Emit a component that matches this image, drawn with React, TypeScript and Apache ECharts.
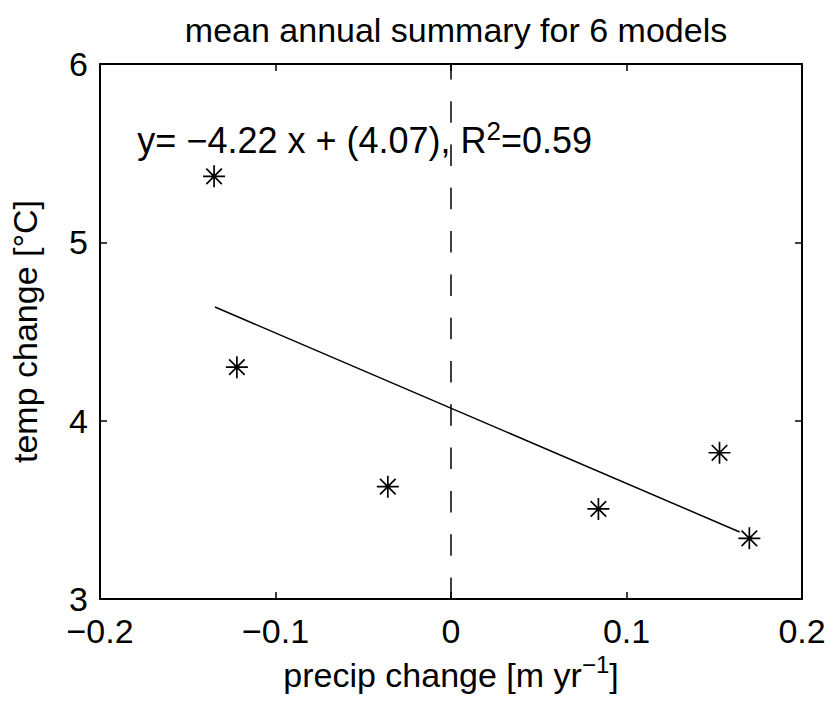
import React, { useEffect, useRef } from "react";
import * as echarts from "echarts";

// ---- data ----
const precipChange = [-0.135, -0.122, -0.036, 0.084, 0.153, 0.17];
const tempChange = [5.37, 4.3, 3.63, 3.505, 3.82, 3.34];
const fitSlope = -4.22;
const fitIntercept = 4.07;
const rSquared = 0.59;
const fitRangeX = [-0.1345, 0.1645];
const zeroLineX = [0, 0];
const zeroLineY = [3, 6];
const eqAnchor = [-0.179, 5.57];
const xRange = [-0.2, 0.2];
const yRange = [3, 6];
const xStep = 0.1;
const yStep = 1;
const titleText = "mean annual summary for 6 models";
const yLabelText = "temp change [°C]";

const FONT = '"Liberation Sans", Arial, Helvetica, sans-serif';
const FS = 34;
const STAR =
  "path://M0 10L20 10M10 0L10 20M2.93 2.93L17.07 17.07M17.07 2.93L2.93 17.07";

const fmt = (v: number) => String(+v.toFixed(2)).replace("-", "\u2212");

export default function App() {
  const ref = useRef<HTMLDivElement>(null);
  useEffect(() => {
    if (!ref.current) return;
    const chart = echarts.init(ref.current, null, { renderer: "svg" });
    const axisLine = { show: true, onZero: false, lineStyle: { color: "#000", width: 2 } };
    const tick = { show: true, inside: true, length: 7, lineStyle: { color: "#000", width: 1.5 } };
    const baseLabel = { color: "#000", fontSize: FS, fontFamily: FONT, formatter: fmt };
    const supStyle = { fontSize: 24, fontFamily: FONT, color: "#000", verticalAlign: "top", lineHeight: 18 };
    const mainStyle = { fontSize: FS, fontFamily: FONT, color: "#000", lineHeight: 44 };
    const eqMain = { fontSize: 36, fontFamily: FONT, color: "#000", lineHeight: 46 };
    const eqSup = { fontSize: 26, fontFamily: FONT, color: "#000", verticalAlign: "top", lineHeight: 20 };

    const scatterData = precipChange.map((x, i) => [x, tempChange[i]]);
    const fitData = fitRangeX.map((x) => [x, fitSlope * x + fitIntercept]);
    const zeroData = zeroLineX.map((x, i) => [x, zeroLineY[i]]);
    const eqText =
      "{a|y= " + fmt(fitSlope) + " x + (" + fitIntercept.toFixed(2) + "), R}{s|2}{a|=" + rSquared.toFixed(2) + "}";

    chart.setOption({
      animation: false,
      backgroundColor: "#fff",
      title: {
        text: titleText,
        left: 451,
        top: 8,
        textAlign: "center",
        textStyle: { color: "#000", fontSize: FS, fontWeight: "normal", fontFamily: FONT },
      },
      grid: { left: 100, right: 28, top: 64, bottom: 107, containLabel: false },
      xAxis: [
        {
          type: "value",
          position: "bottom",
          min: xRange[0],
          max: xRange[1],
          interval: xStep,
          axisLine,
          axisTick: tick,
          splitLine: { show: false },
          axisLabel: { ...baseLabel, margin: 15 },
          name: "{a|precip change [m yr}{s|\u22121}{a|]}",
          nameLocation: "middle",
          nameGap: 44,
          nameTextStyle: { rich: { a: mainStyle, s: supStyle } },
        },
        {
          type: "value",
          position: "top",
          min: xRange[0],
          max: xRange[1],
          interval: xStep,
          axisLine,
          axisTick: tick,
          splitLine: { show: false },
          axisLabel: { show: false },
        },
      ],
      yAxis: [
        {
          type: "value",
          position: "left",
          min: yRange[0],
          max: yRange[1],
          interval: yStep,
          axisLine,
          axisTick: tick,
          splitLine: { show: false },
          axisLabel: { ...baseLabel, margin: 12 },
          name: yLabelText,
          nameLocation: "middle",
          nameGap: 58,
          nameTextStyle: { color: "#000", fontSize: FS, fontFamily: FONT },
        },
        {
          type: "value",
          position: "right",
          min: yRange[0],
          max: yRange[1],
          interval: yStep,
          axisLine,
          axisTick: tick,
          splitLine: { show: false },
          axisLabel: { show: false },
        },
      ],
      series: [
        {
          type: "line",
          data: zeroData,
          symbol: "none",
          lineStyle: { color: "#000", width: 1.5, type: [21.5, 21.8] },
          silent: true,
        },
        {
          type: "line",
          data: fitData,
          symbol: "none",
          lineStyle: { color: "#000", width: 1.5 },
          silent: true,
        },
        {
          type: "scatter",
          data: scatterData,
          symbol: STAR,
          symbolSize: 22,
          itemStyle: { color: "rgba(0,0,0,0)", borderColor: "#000", borderWidth: 1.7, opacity: 1 },
          silent: true,
        },
        {
          type: "scatter",
          data: [eqAnchor],
          symbolSize: 1,
          itemStyle: { color: "rgba(0,0,0,0)", opacity: 1 },
          label: {
            show: true,
            position: "right",
            distance: 0,
            color: "#000",
            opacity: 1,
            textBorderWidth: 0,
            formatter: () => eqText,
            rich: { a: eqMain, s: eqSup },
          },
          silent: true,
        },
      ],
    });
    return () => chart.dispose();
  }, []);
  return <div ref={ref} style={{ position: "absolute", left: 0, top: 0, width: 830, height: 706 }} />;
}
